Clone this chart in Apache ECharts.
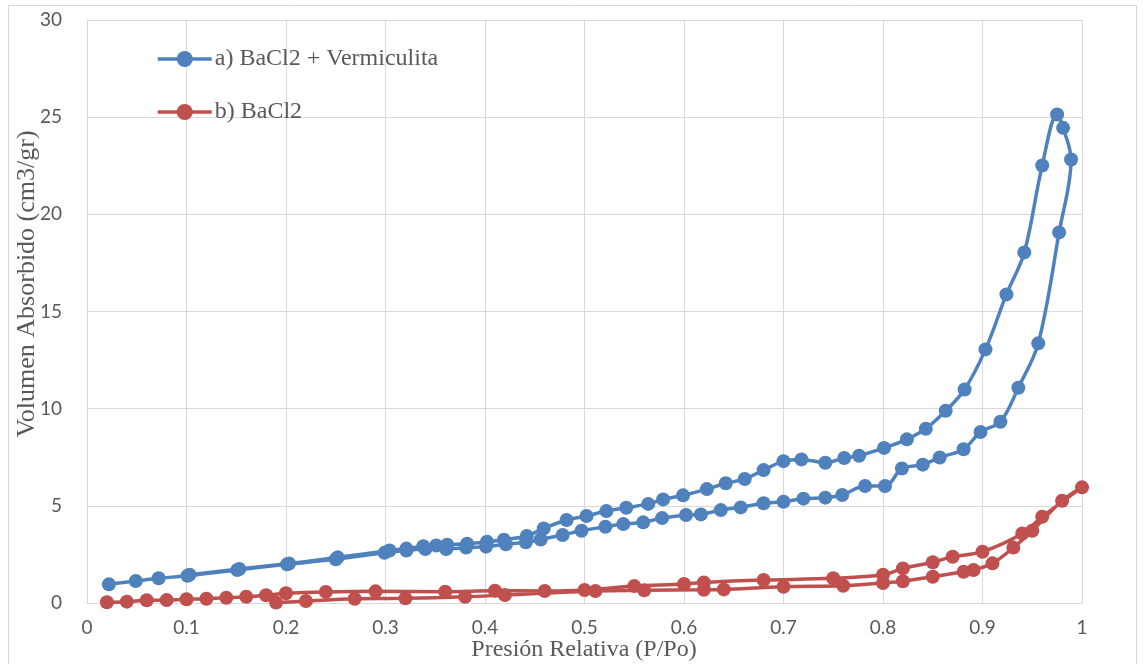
<!DOCTYPE html>
<html>
<head>
<meta charset="utf-8">
<script src="https://cdn.jsdelivr.net/npm/echarts@6/dist/echarts.min.js"></script>
<style>
html,body{margin:0;padding:0;background:#fff;}
#chart{width:1144px;height:664px;}
</style>
</head>
<body>
<div id="chart"></div>
<script>
const seriesNames = ['a) BaCl2 + Vermiculita', 'b) BaCl2'];
const xTicks = [0, 0.1, 0.2, 0.3, 0.4, 0.5, 0.6, 0.7, 0.8, 0.9, 1];
const yTicks = [0, 5, 10, 15, 20, 25, 30];

// a) BaCl2 + Vermiculita : adsorption (lower branch) then desorption (upper branch)
const vermX = [0.022,0.049,0.072,0.101,0.151,0.201,0.250,0.299,0.321,0.340,0.361,0.381,0.401,0.421,0.441,0.456,0.478,0.497,0.521,0.539,0.559,0.578,0.602,0.617,0.637,0.657,0.680,0.700,0.720,0.742,0.759,0.782,0.802,0.819,0.840,0.857,0.881,0.898,0.918,0.936,0.956,0.977,0.989,0.981,0.975,
  0.960,0.942,0.924,0.903,0.882,0.863,0.843,0.824,0.801,0.776,0.761,0.742,0.718,0.700,0.680,0.661,0.642,0.623,0.599,0.579,0.564,0.542,0.522,0.502,0.482,0.459,0.442,0.419,0.402,0.382,0.362,0.351,0.338,0.321,0.304,0.252,0.203,0.153,0.103];
const vermY = [0.96,1.13,1.27,1.40,1.70,1.99,2.25,2.58,2.70,2.78,2.78,2.85,2.90,3.02,3.12,3.27,3.50,3.72,3.92,4.06,4.15,4.37,4.53,4.56,4.78,4.92,5.13,5.21,5.37,5.42,5.56,6.02,6.02,6.92,7.12,7.49,7.91,8.80,9.33,11.08,13.36,19.07,22.82,24.45,25.14,
  22.51,18.04,15.88,13.05,10.99,9.89,8.97,8.42,7.98,7.58,7.46,7.22,7.39,7.30,6.84,6.38,6.16,5.86,5.54,5.33,5.10,4.90,4.73,4.48,4.27,3.84,3.45,3.26,3.15,3.05,3.00,2.96,2.92,2.80,2.70,2.35,2.03,1.75,1.45];

// b) BaCl2
const bacX = [0.020,0.040,0.060,0.080,0.100,0.120,0.140,0.160,0.180,0.200,0.240,0.290,0.360,0.410,0.460,0.500,0.550,0.600,0.620,0.680,0.750,0.800,0.820,0.850,0.870,0.900,0.940,0.960,1.000,
  0.980,0.950,0.931,0.910,0.891,0.881,0.850,0.820,0.800,0.760,0.700,0.640,0.620,0.560,0.511,0.420,0.380,0.320,0.269,0.220,0.190];
const bacY = [0.04,0.07,0.14,0.15,0.19,0.22,0.27,0.32,0.40,0.50,0.57,0.60,0.58,0.63,0.62,0.67,0.87,0.98,1.06,1.18,1.27,1.45,1.78,2.10,2.38,2.64,3.58,4.44,5.95,
  5.26,3.72,2.85,2.04,1.70,1.61,1.35,1.12,1.03,0.89,0.84,0.70,0.68,0.65,0.62,0.41,0.32,0.24,0.22,0.10,0.02];

const zip = (xs, ys) => xs.map((x, i) => [x, ys[i]]);

const chart = echarts.init(document.getElementById('chart'));
const labelStyle = {color:'#595959', fontFamily:'Lato', fontSize:19};
chart.setOption({
  animation:false,
  backgroundColor:'#ffffff',
  grid:{left:87, right:62, top:20, bottom:61, containLabel:false},
  legend:{
    orient:'vertical', left:151, top:42, itemGap:29, itemWidth:54, itemHeight:20,
    lineStyle:{width:3.5},
    textStyle:{fontFamily:'Liberation Serif', fontSize:24, color:'#595959', padding:[0,0,0,-2]},
    data:seriesNames
  },
  xAxis:{
    type:'value', min:0, max:1, interval:0.1,
    axisLine:{show:true, lineStyle:{color:'#d9d9d9', width:1}},
    axisTick:{show:false},
    splitLine:{show:true, lineStyle:{color:'#d9d9d9', width:1}},
    axisLabel:Object.assign({margin:15, formatter:v=>String(Math.round(v*10)/10)}, labelStyle)
  },
  yAxis:{
    type:'value', min:0, max:30, interval:5,
    axisLine:{show:true, lineStyle:{color:'#d9d9d9', width:1}},
    axisTick:{show:false},
    splitLine:{show:true, lineStyle:{color:'#d9d9d9', width:1}},
    axisLabel:Object.assign({margin:25}, labelStyle)
  },
  graphic:[
    {type:'rect', silent:true, z:-1, shape:{x:8.5, y:5.5, width:1128, height:680}, style:{fill:null, stroke:'#d9d9d9', lineWidth:1}},
    {type:'text', x:584, y:650, silent:true, style:{text:'Presión Relativa (P/Po)', fontFamily:'Liberation Serif', fontSize:24, fill:'#595959', align:'center', verticalAlign:'middle'}},
    {type:'text', x:27, y:284, rotation:Math.PI/2, silent:true, style:{text:'Volumen Absorbido (cm3/gr)', fontFamily:'Liberation Serif', fontSize:26, fill:'#595959', align:'center', verticalAlign:'middle'}}
  ],
  series:[
    {name:seriesNames[0], type:'line', smooth:0.35, data:zip(vermX, vermY),
     symbol:'circle', symbolSize:14, color:'#4f81bd',
     lineStyle:{width:3.5, color:'#4f81bd'}, itemStyle:{color:'#4f81bd'}},
    {name:seriesNames[1], type:'line', smooth:0.35, data:zip(bacX, bacY),
     symbol:'circle', symbolSize:14, color:'#c0504d',
     lineStyle:{width:3.5, color:'#c0504d'}, itemStyle:{color:'#c0504d'}}
  ]
});
</script>
</body>
</html>
